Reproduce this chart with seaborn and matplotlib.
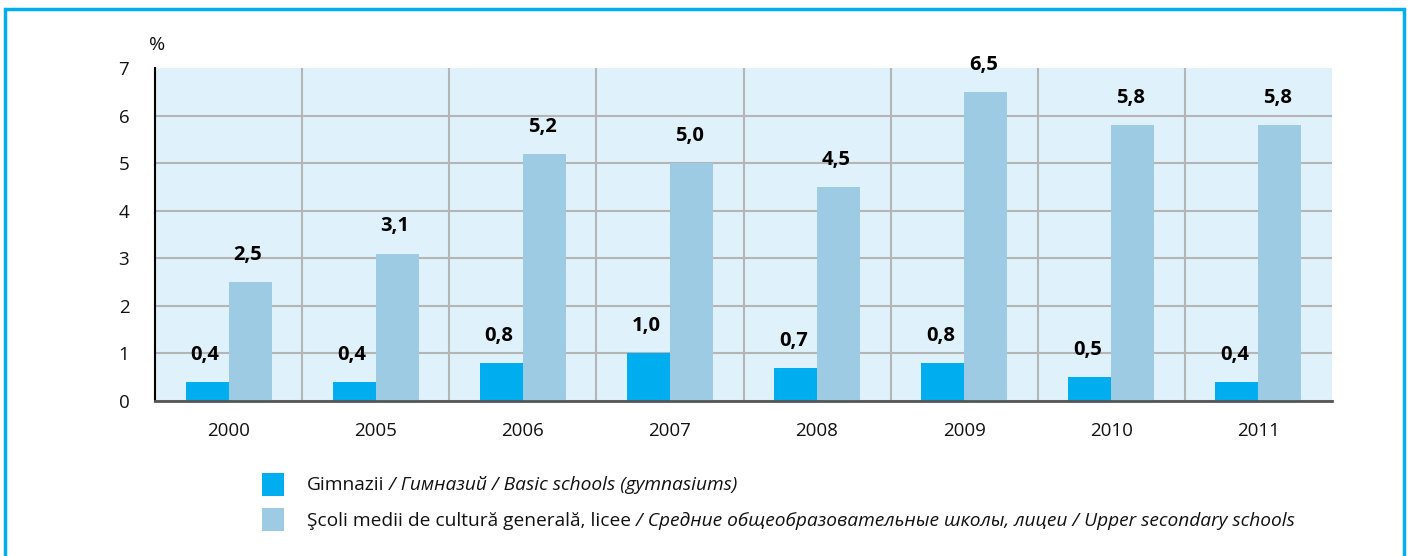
import matplotlib
matplotlib.use('Agg')
import matplotlib.pyplot as plt
import seaborn as sns
import pandas as pd
from matplotlib.patches import Rectangle

years = ['2000', '2005', '2006', '2007', '2008', '2009', '2010', '2011']
gimnazii = [0.4, 0.4, 0.8, 1.0, 0.7, 0.8, 0.5, 0.4]
licee = [2.5, 3.1, 5.2, 5.0, 4.5, 6.5, 5.8, 5.8]
series_names = ['Gimnazii', 'Licee']
legend_normal = ['Gimnazii', 'Şcoli medii de cultură generală, licee']
legend_italic = [' / Гимназий / Basic schools (gymnasiums)',
                 ' / Средние общеобразовательные школы, лицеи / Upper secondary schools']
colors = ['#00aeef', '#9ccbe3']

sns.set_theme(style='white')
plt.rcParams['font.family'] = ['Open Sans', 'DejaVu Sans']

df = pd.DataFrame({
    'year': years * 2,
    'value': gimnazii + licee,
    'series': [series_names[0]] * len(years) + [series_names[1]] * len(years),
})

W, H = 1410, 556
fig = plt.figure(figsize=(W / 100, H / 100), dpi=100)
ax = fig.add_axes([155 / W, 1 - 401 / H, (1332 - 155) / W, (401 - 68) / H])

sns.barplot(data=df, x='year', y='value', hue='series', order=years,
            hue_order=series_names, palette=colors, width=0.585, ax=ax,
            legend=False, linewidth=0, saturation=1)

for cont, vals in zip(ax.containers, [gimnazii, licee]):
    for bar, v in zip(cont, vals):
        ax.annotate(f'{v:.1f}'.replace('.', ','),
                    xy=(bar.get_x() + bar.get_width() / 2, bar.get_height()),
                    xytext=(-1.5, 19.5), textcoords='offset points',
                    ha='center', va='center', fontweight='bold', fontsize=14.5,
                    color='black')

ax.set_xlim(-0.5, len(years) - 0.5)
ax.set_ylim(0, 7)
ax.set_yticks(range(8))
ax.set_xticks([i - 0.5 for i in range(len(years) + 1)], minor=True)
ax.set_facecolor('#dff1fb')
ax.set_xlabel('')
ax.set_ylabel('')
ax.set_axisbelow(True)

ax.grid(axis='y', which='major', color='#b5b5b5', lw=1.5)
ax.grid(axis='x', which='minor', color='#b5b5b5', lw=1.5)
ax.grid(axis='x', which='major', visible=False)
ax.yaxis.get_major_ticks()[-1].gridline.set_visible(False)
ax.xaxis.get_minor_ticks()[-1].gridline.set_visible(False)

ax.tick_params(axis='x', which='major', length=0, pad=15, labelsize=13.5, colors='#111')
ax.tick_params(axis='x', which='minor', length=16, width=1.5, color='#222', direction='out')
ax.tick_params(axis='y', direction='inout', length=17, width=1.5, color='black',
               pad=10, labelsize=13.5, labelcolor='#111')

for s in ['top', 'right']:
    ax.spines[s].set_visible(False)
ax.spines['left'].set_color('black')
ax.spines['left'].set_linewidth(1.5)
ax.spines['bottom'].set_color('#555555')
ax.spines['bottom'].set_linewidth(2)

fig.text(157 / W, 1 - 45 / H, '%', fontsize=14, ha='center', va='center', color='#111')

# legend
fig.canvas.draw()
renderer = fig.canvas.get_renderer()
box_tops = [473, 508]
baselines = [490, 526]
for i in range(2):
    fig.patches.append(Rectangle((262 / W, 1 - (box_tops[i] + 23) / H), 22 / W, 23 / H,
                                 transform=fig.transFigure, color=colors[i], lw=0))
    t = fig.text(307 / W, 1 - baselines[i] / H, legend_normal[i], fontsize=13.8,
                 va='baseline', ha='left', color='#111')
    bb = t.get_window_extent(renderer)
    fig.text(bb.x1 / W, 1 - baselines[i] / H, legend_italic[i], fontsize=13.8,
             va='baseline', ha='left', style='italic', color='#111')

fig.patches.append(Rectangle((5 / W, -0.05), (1404 - 5) / W, 1.05 - 9 / H,
                             transform=fig.transFigure, fill=False,
                             edgecolor='#00aeef', lw=2.5))

fig.savefig('out.png', dpi=100)
